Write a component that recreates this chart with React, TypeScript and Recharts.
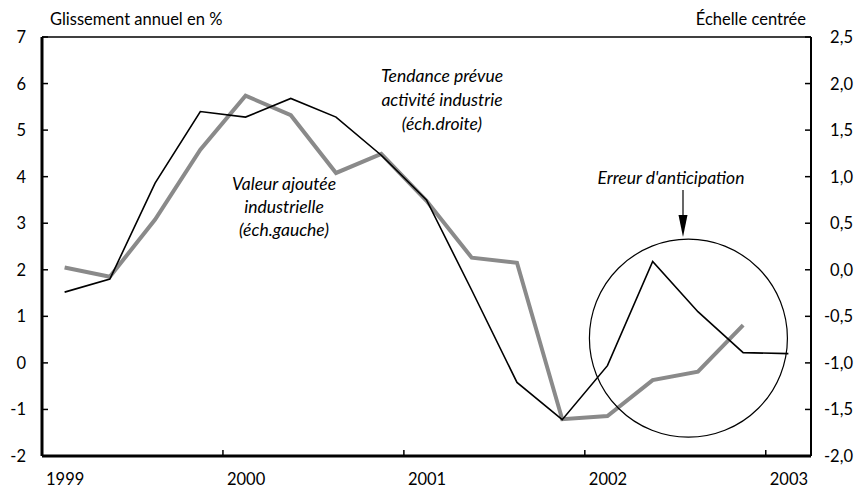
import React from 'react';
import { LineChart, Line, XAxis, YAxis, ReferenceLine, ReferenceDot } from 'recharts';

const quarters = [
  '1999T1', '1999T2', '1999T3', '1999T4',
  '2000T1', '2000T2', '2000T3', '2000T4',
  '2001T1', '2001T2', '2001T3', '2001T4',
  '2002T1', '2002T2', '2002T3', '2002T4',
  '2003T1',
];
// Valeur ajoutée industrielle (échelle gauche)
const valeurAjoutee = [2.05, 1.85, 3.08, 4.58, 5.74, 5.32, 4.08, 4.49, 3.48, 2.26, 2.15, -1.21, -1.14, -0.37, -0.19, 0.81];
// Tendance prévue activité industrie (échelle droite)
const tendance = [-0.24, -0.1, 0.93, 1.7, 1.64, 1.84, 1.64, 1.23, 0.75, -0.22, -1.21, -1.61, -1.03, 0.09, -0.45, -0.89, -0.9];

const yearTicks = [0, 4, 8, 12, 16];
const yearLabels = ['1999', '2000', '2001', '2002', '2003'];
const leftTicks = [-2, -1, 0, 1, 2, 3, 4, 5, 6, 7];
const rightTicks = [-2, -1.5, -1, -0.5, 0, 0.5, 1, 1.5, 2, 2.5];

const circleCenter = { x: 14.29, y: 0.53 };

const data = quarters.map((q, i) => ({
  q,
  x: i + 0.5,
  va: i < valeurAjoutee.length ? valeurAjoutee[i] : null,
  td: tendance[i],
}));

const FONT = 'Lato, "Open Sans", sans-serif';
const FS = 16.5;
const FSI = 17.5;

const LeftTick = (props: any) => {
  const { y, payload } = props;
  return (
    <g>
      <line x1={42} x2={48} y1={y} y2={y} stroke="#000" strokeWidth={1.5} />
      <text x={26} y={y} dy={6} textAnchor="end" fontSize={FS} fontFamily={FONT} fill="#000">
        {String(payload.value)}
      </text>
    </g>
  );
};

const RightTick = (props: any) => {
  const { y, payload } = props;
  const v = Number(payload.value).toFixed(1).replace('.', ',');
  return (
    <g>
      <line x1={805} x2={811} y1={y} y2={y} stroke="#000" strokeWidth={1.5} />
      <text x={853} y={y} dy={6} textAnchor="end" fontSize={FS} fontFamily={FONT} fill="#000">
        {v}
      </text>
    </g>
  );
};

const BottomTick = (props: any) => {
  const { x, payload } = props;
  const idx = yearTicks.indexOf(payload.value);
  return (
    <g>
      <line x1={x} x2={x} y1={456} y2={450} stroke="#000" strokeWidth={1.5} />
      <text x={x + 4} y={485} textAnchor="start" fontSize={FS} fontFamily={FONT} fill="#000">
        {idx >= 0 ? yearLabels[idx] : ''}
      </text>
    </g>
  );
};

export default function App() {
  return (
    <div style={{ position: 'absolute', left: 0, top: 0, width: 862, height: 490, background: '#fff' }}>
      <LineChart width={862} height={490} data={data} margin={{ top: 37, right: 0, bottom: 0, left: 0 }}>
        <XAxis
          dataKey="x"
          type="number"
          domain={[0, 17]}
          ticks={yearTicks}
          interval={0}
          height={34}
          tick={<BottomTick />}
          tickLine={false}
          axisLine={{ stroke: '#000', strokeWidth: 3 }}
          allowDataOverflow
        />
        <YAxis
          yAxisId="left"
          orientation="left"
          domain={[-2, 7]}
          ticks={leftTicks}
          interval={0}
          width={42}
          tick={<LeftTick />}
          tickLine={false}
          axisLine={{ stroke: '#000', strokeWidth: 3 }}
        />
        <YAxis
          yAxisId="right"
          orientation="right"
          domain={[-2, 2.5]}
          ticks={rightTicks}
          interval={0}
          width={51}
          tick={<RightTick />}
          tickLine={false}
          axisLine={{ stroke: '#000', strokeWidth: 2 }}
        />
        <ReferenceLine yAxisId="left" y={7} stroke="#000" strokeWidth={1.5} />
        <Line
          yAxisId="left"
          dataKey="va"
          stroke="#8a8a8a"
          strokeWidth={4}
          dot={false}
          isAnimationActive={false}
          strokeLinejoin="miter"
        />
        <Line
          yAxisId="right"
          dataKey="td"
          stroke="#000"
          strokeWidth={1.6}
          dot={false}
          isAnimationActive={false}
        />
        <ReferenceDot
          yAxisId="left"
          x={circleCenter.x}
          y={circleCenter.y}
          r={99}
          fill="none"
          stroke="#000"
          strokeWidth={1.2}
        />
      </LineChart>
      <svg width={862} height={490} style={{ position: 'absolute', left: 0, top: 0, pointerEvents: 'none' }}>
        <g fontFamily={FONT} fontSize={FS} fill="#000">
          <text x={50} y={25}>Glissement annuel en %</text>
          <text x={806} y={25} textAnchor="end">Échelle centrée</text>
          <g fontStyle="italic" fontSize={FSI} textAnchor="middle">
            <text x={442} y={82}>Tendance prévue</text>
            <text x={442} y={106}>activité industrie</text>
            <text x={442} y={130}>(éch.droite)</text>
            <text x={284} y={190}>Valeur ajoutée</text>
            <text x={284} y={213}>industrielle</text>
            <text x={284} y={236}>(éch.gauche)</text>
            <text x={671} y={184}>Erreur d'anticipation</text>
          </g>
        </g>
        <line x1={683} x2={683} y1={190} y2={222} stroke="#000" strokeWidth={1.2} />
        <polygon points="678.5,215 687.5,215 683,237" fill="#000" />
      </svg>
    </div>
  );
}
